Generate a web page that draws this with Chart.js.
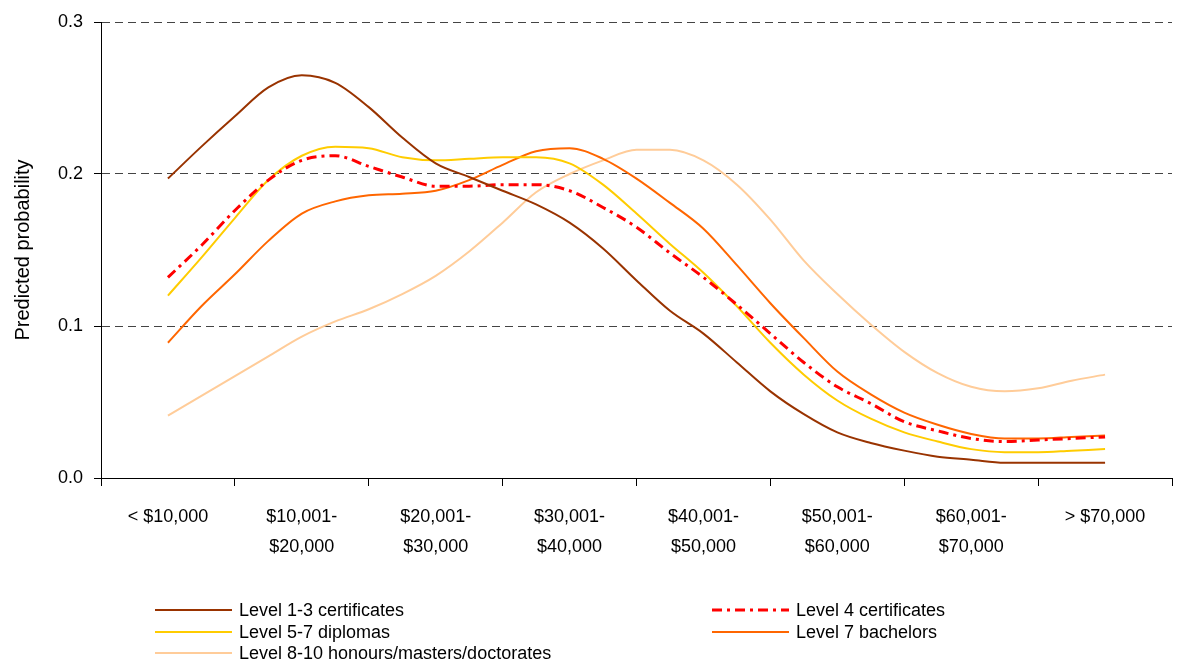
<!DOCTYPE html>
<html><head><meta charset="utf-8">
<script src="https://cdn.jsdelivr.net/npm/chart.js@4/dist/chart.umd.min.js"></script>
<style>
html,body{margin:0;padding:0;background:#fff;}
#wrap{position:relative;width:1177px;height:664px;}
#legend{position:absolute;left:0;top:0;width:1177px;height:664px;pointer-events:none;font-family:"Liberation Sans",Arial,sans-serif;font-size:18px;color:#000;}
.item{position:absolute;height:20px;display:flex;align-items:center;white-space:nowrap;}
.item svg{margin-right:7px;}
</style></head><body>
<div id="wrap"><canvas id="c" width="1177" height="664"></canvas><div id="legend"></div></div>
<script>
const categories = [["< $10,000"],["$10,001-","$20,000"],["$20,001-","$30,000"],["$30,001-","$40,000"],["$40,001-","$50,000"],["$50,001-","$60,000"],["$60,001-","$70,000"],["> $70,000"]];
const yTicks = [0, 0.1, 0.2, 0.3];
const positions = [0,0.25,0.5,0.75,1,1.25,1.5,1.75,2,2.25,2.5,2.75,3,3.25,3.5,3.75,4,4.25,4.5,4.75,5,5.25,5.5,5.75,6,6.25,6.5,6.75,7];
const level1to3 = [0.197,0.218,0.238,0.257,0.265,0.260,0.244,0.224,0.207,0.198,0.189,0.180,0.168,0.151,0.130,0.110,0.095,0.076,0.057,0.042,0.030,0.023,0.018,0.014,0.012,0.010,0.010,0.010,0.010];
const level4 = [0.132,0.153,0.176,0.196,0.209,0.212,0.205,0.198,0.192,0.192,0.193,0.193,0.189,0.178,0.165,0.148,0.132,0.114,0.095,0.076,0.060,0.049,0.037,0.031,0.026,0.024,0.025,0.026,0.027];
const level5to7 = [0.120,0.145,0.171,0.196,0.212,0.218,0.217,0.211,0.209,0.210,0.211,0.211,0.207,0.193,0.174,0.154,0.135,0.113,0.089,0.068,0.051,0.039,0.030,0.024,0.019,0.017,0.017,0.018,0.019];
const level7 = [0.089,0.113,0.134,0.156,0.174,0.182,0.186,0.187,0.189,0.196,0.206,0.215,0.217,0.210,0.197,0.181,0.164,0.140,0.115,0.092,0.070,0.055,0.043,0.035,0.029,0.026,0.026,0.027,0.028];
const level8to10 = [0.041,0.054,0.067,0.080,0.093,0.103,0.111,0.121,0.133,0.149,0.168,0.188,0.200,0.209,0.216,0.216,0.209,0.193,0.170,0.143,0.121,0.101,0.083,0.069,0.060,0.057,0.059,0.064,0.068];

const series = [
  {label:"Level 1-3 certificates", data:level1to3, color:"#993300", dash:[], width:2},
  {label:"Level 4 certificates", data:level4, color:"#FF0000", dash:[10,5,3,5], width:3},
  {label:"Level 5-7 diplomas", data:level5to7, color:"#FFCC00", dash:[], width:2},
  {label:"Level 7 bachelors", data:level7, color:"#FF6600", dash:[], width:2},
  {label:"Level 8-10 honours/masters/doctorates", data:level8to10, color:"#FFCC99", dash:[], width:2}
];
const FONT = "'Liberation Sans', Arial, sans-serif";

new Chart(document.getElementById('c'), {
  type: 'line',
  data: {
    labels: categories,
    datasets: series.map(s => ({
      label: s.label,
      data: positions.map((p,i) => ({x:p, y:s.data[i]})),
      xAxisID: 'xv',
      borderColor: s.color,
      backgroundColor: s.color,
      borderWidth: s.width,
      borderDash: s.dash,
      pointRadius: 0,
      fill: false,
      cubicInterpolationMode: 'monotone'
    }))
  },
  options: {
    responsive: false,
    animation: false,
    events: [],
    layout: {padding: {left:0, right:5, top:22, bottom:0}},
    plugins: {legend: {display:false}, tooltip: {enabled:false}},
    scales: {
      x: {
        type: 'category',
        offset: true,
        afterFit: s => { s.height = 186; },
        grid: {offset:true, drawOnChartArea:false, tickLength:8, color:'#000', lineWidth:1},
        border: {color:'#000', width:1},
        ticks: {color:'#000', padding:16, maxRotation:0, autoSkip:false, font:{family:FONT, size:18, lineHeight:1.67}}
      },
      xv: {
        type: 'linear', display: false, min: -0.5, max: 7.5
      },
      y: {
        min: 0, max: 0.3,
        afterFit: s => { s.width = 101; },
        afterBuildTicks: s => { s.ticks = yTicks.map(v => ({value:v})); },
        grid: {
          color: ctx => (ctx.tick && ctx.tick.value === 0) ? 'rgba(0,0,0,0)' : '#444',
          tickBorderDash: [], tickColor:'#000', tickLength:7, lineWidth:1
        },
        border: {color:'#000', width:1, dash:[8,5]},
        ticks: {color:'#000', padding:11, font:{family:FONT, size:18}, callback: v => Number(v).toFixed(1)},
        title: {display:true, text:'Predicted probability', color:'#000', font:{family:FONT, size:20, lineHeight:1.2}, padding:{top:11, bottom:0}}
      }
    }
  }
});

const legendPos = [[155,600],[712,600],[155,622],[712,622],[155,643]];
const lg = document.getElementById('legend');
series.forEach((s,i) => {
  const d = document.createElement('div');
  d.className = 'item';
  d.style.left = legendPos[i][0] + 'px';
  d.style.top = legendPos[i][1] + 'px';
  const dash = s.dash.length ? ` stroke-dasharray="${s.dash.join(' ')}"` : '';
  d.innerHTML = `<svg width="77" height="8"><line x1="0" y1="4" x2="77" y2="4" stroke="${s.color}" stroke-width="${s.width}"${dash}/></svg><span></span>`;
  d.querySelector('span').textContent = s.label;
  lg.appendChild(d);
});
</script>
</body></html>
